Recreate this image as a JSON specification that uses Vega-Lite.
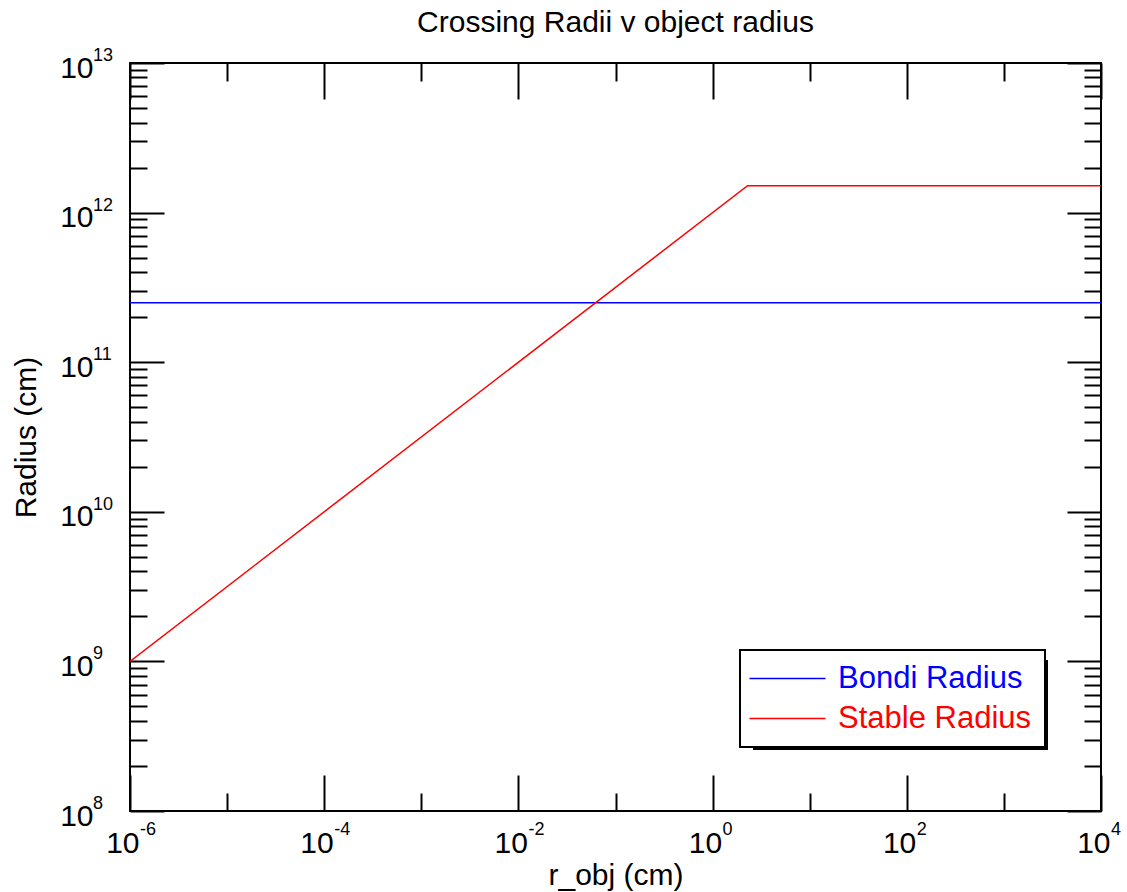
{
  "$schema": "https://vega.github.io/schema/vega-lite/v6.json",
  "width": 971,
  "height": 748,
  "autosize": {"type": "none"},
  "padding": {"left": 130, "top": 63, "right": 26, "bottom": 81},
  "background": "white",
  "title": {
    "text": "Crossing Radii v object radius",
    "font": "Liberation Sans",
    "fontSize": 30,
    "fontWeight": "normal",
    "color": "black",
    "anchor": "middle",
    "baseline": "alphabetic",
    "offset": -15
  },
  "config": {
    "view": {"stroke": "black", "strokeWidth": 2},
    "axis": {
      "grid": false,
      "domain": false,
      "tickColor": "black",
      "tickWidth": 2,
      "labelFont": "Liberation Sans",
      "labelFontSize": 30,
      "labelColor": "black",
      "titleFont": "Liberation Sans",
      "titleFontSize": 30,
      "titleFontWeight": "normal",
      "titleColor": "black"
    }
  },
  "datasets": {
    "radii": [
      {"r_obj": 1e-6, "radius": 2.5e11, "series": "Bondi Radius"},
      {"r_obj": 1e4, "radius": 2.5e11, "series": "Bondi Radius"},
      {"r_obj": 1e-6, "radius": 1e9, "series": "Stable Radius"},
      {"r_obj": 2.29, "radius": 1.513e12, "series": "Stable Radius"},
      {"r_obj": 1e4, "radius": 1.513e12, "series": "Stable Radius"}
    ],
    "xExponents": [
      {"value": 1e-6, "exponent": "-6"},
      {"value": 1e-4, "exponent": "-4"},
      {"value": 1e-2, "exponent": "-2"},
      {"value": 1, "exponent": "0"},
      {"value": 100, "exponent": "2"},
      {"value": 10000, "exponent": "4"}
    ],
    "yExponents": [
      {"value": 1e8, "exponent": "8"},
      {"value": 1e9, "exponent": "9"},
      {"value": 1e10, "exponent": "10"},
      {"value": 1e11, "exponent": "11"},
      {"value": 1e12, "exponent": "12"},
      {"value": 1e13, "exponent": "13"}
    ]
  },
  "resolve": {
    "scale": {"x": "independent", "y": "independent"},
    "axis": {"x": "independent", "y": "independent"}
  },
  "layer": [
    {
      "data": {"values": [{}]},
      "mark": {"type": "rect", "color": "black"},
      "encoding": {
        "x": {
          "datum": 2.61, "type": "quantitative",
          "scale": {"type": "log", "domain": [1e-6, 1e4], "nice": false},
          "axis": {
            "orient": "bottom", "title": null,
            "values": [1e-5, 1e-3, 0.1, 10, 1000],
            "offset": -18, "tickSize": 18, "labels": false
          }
        },
        "x2": {"datum": 2845},
        "y": {
          "datum": 1.022e9, "type": "quantitative",
          "scale": {"type": "log", "domain": [1e8, 1e13], "nice": false},
          "axis": {
            "orient": "left", "title": null,
            "values": [2e8, 3e8, 4e8, 5e8, 6e8, 7e8, 8e8, 9e8,
                       2e9, 3e9, 4e9, 5e9, 6e9, 7e9, 8e9, 9e9,
                       2e10, 3e10, 4e10, 5e10, 6e10, 7e10, 8e10, 9e10,
                       2e11, 3e11, 4e11, 5e11, 6e11, 7e11, 8e11, 9e11,
                       2e12, 3e12, 4e12, 5e12, 6e12, 7e12, 8e12, 9e12],
            "offset": -17, "tickSize": 17, "labels": false
          }
        },
        "y2": {"datum": 2.557e8}
      }
    },
    {
      "data": {"name": "radii"},
      "mark": {"type": "line", "strokeWidth": 1.5, "clip": true},
      "encoding": {
        "x": {
          "field": "r_obj", "type": "quantitative",
          "scale": {"type": "log", "domain": [1e-6, 1e4], "nice": false},
          "axis": {
            "orient": "bottom", "title": "r_obj (cm)",
            "values": [1e-6, 1e-4, 1e-2, 1, 100, 10000],
            "offset": -36, "tickSize": 36,
            "labelPadding": 41, "labelBaseline": "alphabetic",
            "labelAlign": "right", "labelOffset": 9,
            "titlePadding": 2,
            "labelFlush": false, "labelOverlap": false,
            "labelExpr": "'10'"
          }
        },
        "y": {
          "field": "radius", "type": "quantitative",
          "scale": {"type": "log", "domain": [1e8, 1e13], "nice": false},
          "axis": {
            "orient": "left", "title": "Radius (cm)",
            "values": [1e8, 1e9, 1e10, 1e11, 1e12, 1e13],
            "offset": -34, "tickSize": 34,
            "labelPadding": 37, "labelBaseline": "alphabetic", "labelOffset": 14,
            "titlePadding": 18,
            "labelFlush": false, "labelOverlap": false,
            "labelExpr": "'10'"
          }
        },
        "color": {
          "field": "series", "type": "nominal",
          "scale": {"domain": ["Bondi Radius", "Stable Radius"], "range": ["#0000ff", "#ff0000"]},
          "legend": {
            "title": null,
            "orient": "none",
            "legendX": 610,
            "legendY": 587,
            "symbolType": "M-2.5,0H7.5",
            "symbolSize": 231,
            "symbolStrokeWidth": 1.5,
            "labelFont": "Liberation Sans",
            "labelFontSize": 31,
            "labelOffset": 54,
            "rowPadding": 8,
            "padding": 13,
            "fillColor": "white",
            "strokeColor": "black",
            "labelLimit": 400,
            "encode": {
              "legend": {"update": {"strokeWidth": {"value": 2}}},
              "labels": {"update": {"fill": {"signal": "datum.label === 'Bondi Radius' ? '#0000ff' : '#ff0000'"}}}
            }
          }
        }
      }
    },
    {
      "data": {"name": "xExponents"},
      "mark": {"type": "text", "font": "Liberation Sans", "fontSize": 18, "color": "black",
               "align": "left", "baseline": "alphabetic", "dx": 10, "dy": 24},
      "encoding": {
        "x": {
          "field": "value", "type": "quantitative",
          "scale": {"type": "log", "domain": [1e-6, 1e4], "nice": false},
          "axis": {
            "orient": "top", "title": null,
            "values": [1e-6, 1e-4, 1e-2, 1, 100, 10000],
            "offset": -36, "tickSize": 36, "labels": false
          }
        },
        "y": {
          "datum": 1e8, "type": "quantitative",
          "scale": {"type": "log", "domain": [1e8, 1e13], "nice": false},
          "axis": {
            "orient": "right", "title": null,
            "values": [1e8, 1e9, 1e10, 1e11, 1e12, 1e13],
            "offset": -34, "tickSize": 34, "labels": false
          }
        },
        "text": {"field": "exponent"}
      }
    },
    {
      "data": {"name": "yExponents"},
      "mark": {"type": "text", "font": "Liberation Sans", "fontSize": 18, "color": "black",
               "align": "left", "baseline": "alphabetic", "dx": -37, "dy": -2},
      "encoding": {
        "x": {
          "datum": 1e-6, "type": "quantitative",
          "scale": {"type": "log", "domain": [1e-6, 1e4], "nice": false},
          "axis": {
            "orient": "top", "title": null,
            "values": [1e-5, 1e-3, 0.1, 10, 1000],
            "offset": -18, "tickSize": 18, "labels": false
          }
        },
        "y": {
          "field": "value", "type": "quantitative",
          "scale": {"type": "log", "domain": [1e8, 1e13], "nice": false},
          "axis": {
            "orient": "right", "title": null,
            "values": [2e8, 3e8, 4e8, 5e8, 6e8, 7e8, 8e8, 9e8,
                       2e9, 3e9, 4e9, 5e9, 6e9, 7e9, 8e9, 9e9,
                       2e10, 3e10, 4e10, 5e10, 6e10, 7e10, 8e10, 9e10,
                       2e11, 3e11, 4e11, 5e11, 6e11, 7e11, 8e11, 9e11,
                       2e12, 3e12, 4e12, 5e12, 6e12, 7e12, 8e12, 9e12],
            "offset": -17, "tickSize": 17, "labels": false
          }
        },
        "text": {"field": "exponent"}
      }
    }
  ]
}
